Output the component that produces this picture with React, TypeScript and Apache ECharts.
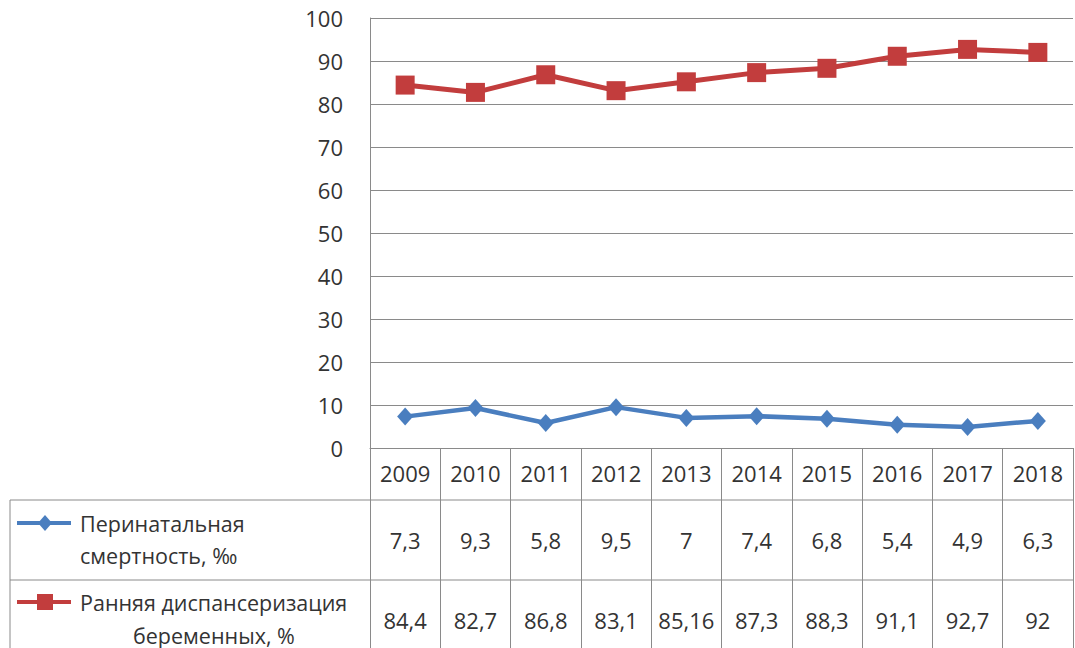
import React, { useEffect, useRef } from 'react';
import * as echarts from 'echarts';

// Years shown on the category axis and in the data table header
const years = ['2009', '2010', '2011', '2012', '2013', '2014', '2015', '2016', '2017', '2018'];
// Perinatal mortality, per mille
const perinatal = [7.3, 9.3, 5.8, 9.5, 7, 7.4, 6.8, 5.4, 4.9, 6.3];
// Early registration of pregnant women, percent
const earlyCare = [84.4, 82.7, 86.8, 83.1, 85.16, 87.3, 88.3, 91.1, 92.7, 92];
// Series names (wrapped as in the data table)
const seriesNames = ['Перинатальная смертность, ‰', 'Ранняя диспансеризация беременных, %'];
const legendLines = [
  ['Перинатальная', 'смертность, ‰'],
  ['Ранняя диспансеризация', 'беременных, %'],
];
// Value axis range
const yMin = 0;
const yMax = 100;
const yStep = 10;

const BLUE = '#4a7ebf';
const RED = '#c23d3d';
const LINE = '#8a8a8a';
const TEXT = '#333333';
const FONT = '"Open Sans", sans-serif';

const fmt = (v: number) => String(v).replace('.', ',');

export default function App() {
  const ref = useRef<HTMLDivElement>(null);

  useEffect(() => {
    const chart = echarts.init(ref.current!, null, { renderer: 'svg' });
    chart.setOption({
      animation: false,
      grid: { left: 370, right: 2, top: 18, bottom: 200, containLabel: false },
      xAxis: {
        type: 'category',
        data: years,
        boundaryGap: true,
        axisLine: { show: true, lineStyle: { color: LINE, width: 1 } },
        axisTick: { show: true, interval: 0, length: 200, lineStyle: { color: LINE, width: 1 } },
        axisLabel: { interval: 0, margin: 14, color: TEXT, fontSize: 22, fontFamily: FONT },
        splitLine: { show: false },
      },
      yAxis: {
        type: 'value',
        min: yMin,
        max: yMax,
        interval: yStep,
        axisLine: { show: true, lineStyle: { color: LINE, width: 1 } },
        axisTick: { show: false },
        axisLabel: { margin: 27, color: TEXT, fontSize: 22, fontFamily: FONT },
        splitLine: { show: true, lineStyle: { color: LINE, width: 1 } },
      },
      series: [
        {
          name: seriesNames[0],
          type: 'line',
          data: perinatal,
          symbol: 'diamond',
          symbolSize: [16, 18],
          lineStyle: { color: BLUE, width: 4.5 },
          itemStyle: { color: BLUE },
        },
        {
          name: seriesNames[1],
          type: 'line',
          data: earlyCare,
          symbol: 'rect',
          symbolSize: 19,
          lineStyle: { color: RED, width: 5 },
          itemStyle: { color: RED },
        },
      ],
    });

    // Data table below the plot, aligned to the category bands
    const xs = years.map((_, i) => chart.convertToPixel({ xAxisIndex: 0 }, i) as number);
    const left = 10;
    const right = 1073;
    const rowTops = [500, 580];
    const rowH = 80;
    const bottom = 648;
    const valueRows = [perinatal, earlyCare];
    const colors = [BLUE, RED];

    const graphic: any[] = [];
    rowTops.forEach((y) => {
      graphic.push({
        type: 'line',
        shape: { x1: left, y1: y, x2: right, y2: y },
        style: { stroke: LINE, lineWidth: 1 },
        silent: true,
      });
    });
    graphic.push({
      type: 'line',
      shape: { x1: left, y1: rowTops[0], x2: left, y2: bottom },
      style: { stroke: LINE, lineWidth: 1 },
      silent: true,
    });

    valueRows.forEach((vals, r) => {
      const cy = rowTops[r] + rowH / 2;
      vals.forEach((v, i) => {
        graphic.push({
          type: 'text',
          x: xs[i],
          y: cy,
          style: {
            text: fmt(v),
            fill: TEXT,
            font: `22px ${FONT}`,
            align: 'center',
            verticalAlign: 'middle',
          },
          silent: true,
        });
      });
    });

    // Legend keys inside the table
    const keyY = [523, 602];
    const lineStarts = [[80, 80], [80, 133]];
    const lineYs = [[523, 555], [602, 635]];
    keyY.forEach((y, r) => {
      graphic.push({
        type: 'line',
        shape: { x1: 17, y1: y, x2: 71, y2: y },
        style: { stroke: colors[r], lineWidth: 4 },
        silent: true,
      });
      if (r === 0) {
        graphic.push({
          type: 'polygon',
          shape: { points: [[45, y - 8], [52, y], [45, y + 8], [38, y]] },
          style: { fill: BLUE },
          silent: true,
        });
      } else {
        graphic.push({
          type: 'rect',
          shape: { x: 37, y: y - 8, width: 16, height: 16 },
          style: { fill: RED },
          silent: true,
        });
      }
      legendLines[r].forEach((t, k) => {
        graphic.push({
          type: 'text',
          x: lineStarts[r][k],
          y: lineYs[r][k],
          style: {
            text: t,
            fill: TEXT,
            font: `21.5px ${FONT}`,
            align: 'left',
            verticalAlign: 'middle',
          },
          silent: true,
        });
      });
    });

    chart.setOption({ graphic });

    return () => chart.dispose();
  }, []);

  return (
    <div
      ref={ref}
      style={{ position: 'absolute', left: 0, top: 0, width: 1075, height: 648, background: '#fff' }}
    />
  );
}
